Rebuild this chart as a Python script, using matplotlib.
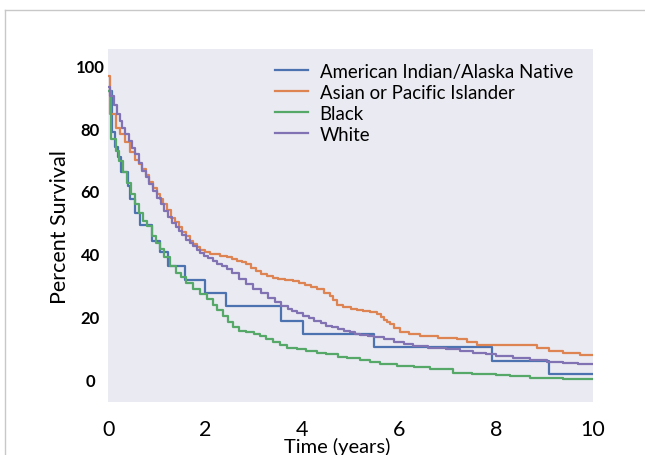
import matplotlib
matplotlib.use("Agg")
import matplotlib.pyplot as plt
from matplotlib.lines import Line2D

# Kaplan-Meier style survival curves (time in years, percent)
aian_t = [0, 0.066, 0.13, 0.2, 0.27, 0.40, 0.45, 0.55, 0.65, 0.91, 1.06, 1.23, 1.58,
          1.99, 2.42, 3.57, 4.01, 5.48, 7.91, 9.09, 10]
aian_s = [92, 78.7, 74, 70.7, 66, 61.5, 57.4, 53, 49, 44, 40.4, 36.1, 31.5,
          27.4, 23.3, 18.6, 14.3, 10.3, 5.7, 1.6, 1.6]

api_t = [0, 0.04, 0.15, 0.25, 0.35, 0.45, 0.56, 0.63, 0.7, 0.77, 0.84, 0.92, 1.0, 1.06,
         1.13, 1.22, 1.3, 1.38, 1.45, 1.53, 1.6, 1.68, 1.75, 1.82, 1.89, 2.0, 2.1, 2.3,
         2.44, 2.55, 2.65, 2.75, 2.85, 2.95, 3.05, 3.15, 3.27, 3.4, 3.5, 3.65, 3.81,
         3.93, 4.05, 4.18, 4.3, 4.45, 4.57, 4.64, 4.71, 4.85, 5.0, 5.13, 5.26, 5.4,
         5.54, 5.62, 5.7, 5.76, 5.81, 5.9, 6.02, 6.2, 6.43, 6.8, 7.19, 7.4, 7.6, 8.84,
         9.1, 9.39, 9.73, 10]
api_s = [96.7, 84.5, 80, 78, 75.5, 72.5, 70, 68.5, 67, 65, 63, 61, 59, 57.5,
         56, 53.8, 51.5, 50, 48.5, 47, 45.5, 44.2, 43, 42, 41.2, 40.5, 40, 39.4,
         38.8, 38.3, 37.8, 37.3, 36.7, 35.5, 34.5, 33.6, 32.9, 32.4, 32, 31.7, 31.3,
         30.6, 30, 29.4, 28.7, 27.6, 26.5, 25.2, 23.8, 23.1, 22.5, 22.1, 21.8, 21.3,
         20.7, 19.8, 19, 18.2, 17.5, 16.3, 15.1, 14.5, 13.8, 13.2, 12.7, 11.8, 10.8, 9.8,
         9.1, 8.5, 7.6, 7.6]

black_t = [0, 0.05, 0.15, 0.22, 0.3, 0.38, 0.46, 0.55, 0.64, 0.72, 0.79, 0.9, 0.98, 1.06,
           1.15, 1.27, 1.4, 1.5, 1.61, 1.75, 1.9, 2.03, 2.15, 2.25, 2.37, 2.47, 2.57,
           2.7, 2.85, 3.0, 3.13, 3.25, 3.4, 3.55, 3.68, 3.9, 4.09, 4.3, 4.5, 4.75, 4.92,
           5.19, 5.4, 5.6, 5.95, 6.3, 6.64, 7.11, 7.5, 8.01, 8.3, 8.7, 9.38, 10]
black_s = [92, 76.5, 72.8, 69.5, 66, 62.5, 59, 56, 53, 50.5, 48.9, 45.5, 43.4, 41.4,
           39, 36.1, 34, 32.5, 30.8, 28.8, 27, 25.5, 23.5, 22, 20.2, 18.3, 16.5,
           15.5, 14.9, 14.3, 13.8, 12.8, 11.7, 10.8, 10.1, 9.5, 9.0, 8.5, 8.0, 7.2, 6.6,
           6.0, 5.5, 5.0, 4.3, 3.8, 3.2, 2.1, 1.8, 1.3, 0.9, 0.5, 0.1, 0.0]

white_t = [0, 0.04, 0.11, 0.18, 0.23, 0.28, 0.35, 0.42, 0.49, 0.56, 0.63, 0.70, 0.77,
           0.84, 0.92, 1.01, 1.08, 1.15, 1.23, 1.32, 1.39, 1.46, 1.53, 1.6, 1.68, 1.75,
           1.82, 1.89, 1.97, 2.05, 2.15, 2.25, 2.35, 2.44, 2.55, 2.7, 2.85, 2.99, 3.15,
           3.3, 3.45, 3.57, 3.7, 3.8, 3.9, 4.02, 4.15, 4.25, 4.38, 4.5, 4.62, 4.75, 4.87,
           4.98, 5.1, 5.2, 5.35, 5.49, 5.7, 5.9, 6.1, 6.29, 6.6, 6.98, 7.25, 7.53, 7.8,
           8.01, 8.35, 8.7, 9.05, 9.39, 9.7, 10]
white_s = [93, 90.3, 87.5, 84.5, 82.3, 80.2, 78.1, 76, 73.8, 71.7, 69, 66.4, 64.3,
           62.2, 60, 57.9, 55.7, 53.6, 51.7, 49.9, 48.6, 47.3, 45.9, 44.5, 43.4, 42.3,
           41.3, 40.3, 39.4, 38.5, 37.6, 36.8, 36, 35.1, 33.8, 32, 30.3, 28.7, 27.4,
           26, 24.6, 23.4, 22.5, 21.8, 21, 20.2, 19.4, 18.6, 17.8, 17.0, 16.5, 16, 15.4,
           14.9, 14.5, 14.2, 13.9, 13.5, 12.7, 12, 11.2, 10.6, 10.1, 9.6, 9.1, 8.5, 7.9,
           7.4, 6.8, 6.1, 5.6, 5.1, 4.9, 4.8]

groups = ["American Indian/Alaska Native", "Asian or Pacific Islander", "Black", "White"]
colors = ["#4C72B0", "#DD8452", "#55A868", "#8172B3"]
x_ticks = [0, 2, 4, 6, 8, 10]
y_ticks = [0, 20, 40, 60, 80, 100]

fig = plt.figure(figsize=(6.45, 4.56), dpi=100)
ax = fig.add_axes([0.168, 0.116, 0.751, 0.774])
ax.set_facecolor("#EAEAF2")
for s in ax.spines.values():
    s.set_visible(False)

curves = [(aian_t, aian_s), (api_t, api_s), (black_t, black_s), (white_t, white_s)]
for (t, s), name, c in zip(curves, groups, colors):
    ax.plot(t, s, drawstyle="steps-post", color=c, linewidth=1.6, label=name)

ax.set_xlim(0, 10)
ax.set_ylim(-7.3, 105.2)
ax.set_xticks(x_ticks)
ax.set_yticks(y_ticks)
ax.tick_params(length=0)
ax.tick_params(axis="y", pad=13)
ax.tick_params(axis="x", pad=12)
for lab in ax.get_yticklabels():
    lab.set_fontweight("bold")
    lab.set_fontsize(12)
    lab.set_ha("center")
    lab.set_family(["Lato", "DejaVu Sans"])
for lab in ax.get_xticklabels():
    lab.set_fontsize(15.5)
    lab.set_family(["Lato", "DejaVu Sans"])

ax.set_ylabel("Percent Survival", fontsize=15.5, family=["Lato", "DejaVu Sans"], labelpad=4)
fig.text(0.522, 0.02, "Time (years)", fontsize=14.5, ha="center", va="center",
         family=["Lato", "DejaVu Sans"])

leg = ax.legend(loc="upper left", bbox_to_anchor=(0.344, 0.962), frameon=False,
                borderpad=0, borderaxespad=0, handlelength=1.8, handletextpad=0.6,
                labelspacing=0.22, prop={"family": ["Lato", "DejaVu Sans"], "size": 13.4})

# thin frame around the image (top and left edges)
fig.add_artist(Line2D([5 / 645, 1], [1 - 11 / 456, 1 - 11 / 456], color="#c8c8c8", linewidth=1))
fig.add_artist(Line2D([5 / 645, 5 / 645], [0, 1 - 11 / 456], color="#c8c8c8", linewidth=1))

fig.savefig("out.png", dpi=100)
